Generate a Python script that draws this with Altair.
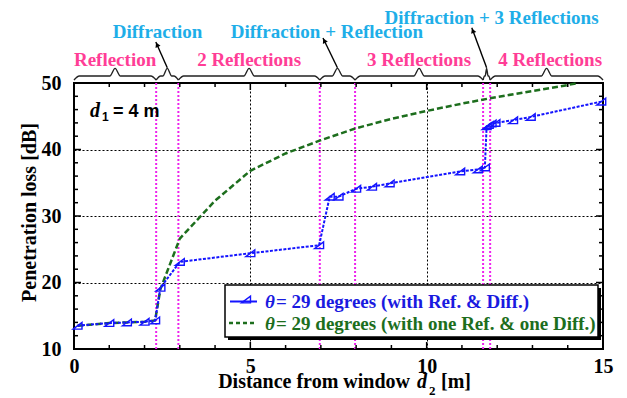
import altair as alt
import pandas as pd
import numpy as np

# ---------------- data ----------------
blue_x = [0.1, 1.0, 1.5, 2.0, 2.3, 2.45, 3.0, 5.0, 6.95, 7.25, 7.5, 8.0, 8.45, 8.95,
          10.95, 11.45, 11.65, 11.7, 11.76, 11.84, 11.95, 12.45, 12.95, 14.95]
blue_y = [13.5, 13.9, 14.0, 14.1, 14.3, 19.2, 23.1, 24.4, 25.6, 32.9, 32.9, 34.1, 34.4, 34.9,
          36.7, 37.0, 37.3, 43.5, 43.7, 43.9, 44.0, 44.4, 44.9, 47.2]
green_x = [0.1, 1.0, 1.5, 2.0, 2.3, 2.45, 3.0, 4.0, 5.0, 6.0, 7.0, 8.0, 9.0, 10.0,
           11.0, 12.0, 13.0, 14.0, 14.3]
green_y = [13.5, 13.9, 14.0, 14.1, 14.3, 19.0, 26.6, 32.3, 36.8, 39.4, 41.4, 43.2, 44.6, 45.8,
           46.9, 47.9, 48.8, 49.7, 50.0]
boundaries = [0, 2.33, 2.96, 6.97, 7.97, 11.6, 11.8, 15]
region_labels = ["Reflection", "Diffraction", "2 Reflections", "Diffraction + Reflection",
                 "3 Reflections", "Diffraction + 3 Reflections", "4 Reflections"]
region_kind = ["refl", "diff", "refl", "diff", "refl", "diff", "refl"]
x_major = [0, 5, 10, 15]
y_major = [10, 20, 30, 40, 50]
series_labels = ["= 29 degrees (with Ref. & Diff.)",
                 "= 29 degrees (with one Ref. & one Diff.)"]

# ---------------- layout ----------------
W, H = 529, 266
XMIN, XMAX, YMIN, YMAX = 0, 15, 10, 50
PXX = W / (XMAX - XMIN)
PXY = H / (YMAX - YMIN)
SERIF = "Liberation Serif"
SANS = "Liberation Sans"
BLUE = "#1414ff"
BLUE_T = "#1a1ae0"
GREEN = "#1d6e1d"
PINK = "#ff3d96"
CYAN = "#1eaee8"
MAG = "#ee22ee"

xs = alt.Scale(domain=[XMIN, XMAX], nice=False, zero=False)
ys = alt.Scale(domain=[YMIN, YMAX], nice=False, zero=False)

blue_df = pd.DataFrame({"x": blue_x, "y": blue_y})
green_df = pd.DataFrame({"x": green_x, "y": green_y})

x_axis = alt.Axis(values=x_major, format="d", ticks=False, domain=False, grid=True,
                  gridColor="black", gridDash=[2, 2], gridWidth=1,
                  labelFont=SERIF, labelFontWeight="bold", labelFontSize=20,
                  labelColor="black", labelPadding=7, labelFlush=False,
                  labelOverlap=False, title=None)
y_axis = alt.Axis(values=y_major, format="d", ticks=False, domain=False, grid=True,
                  gridColor="black", gridDash=[2, 2], gridWidth=1,
                  labelFont=SERIF, labelFontWeight="bold", labelFontSize=20,
                  labelColor="black", labelPadding=13, labelFlush=False,
                  labelOverlap=False, title="Penetration loss [dB]",
                  titleFont=SERIF, titleFontSize=20, titleFontWeight="bold",
                  titleColor="black", titleAngle=-90, titleX=-39, titleY=H / 2 - 4,
                  titleAlign="center", titleBaseline="alphabetic")


def X(f="x"):
    return alt.X(f + ":Q", scale=xs, axis=x_axis)


def Y(f="y"):
    return alt.Y(f + ":Q", scale=ys, axis=y_axis)


# magenta region lines
mag = alt.Chart(pd.DataFrame({"x": boundaries[1:-1]})).mark_rule(
    color=MAG, strokeWidth=2, strokeDash=[2, 2]).encode(x=X())

green = alt.Chart(green_df).mark_line(color=GREEN, strokeWidth=2.5, strokeDash=[6, 3]).encode(
    x=X(), y=Y())
blue_line = alt.Chart(blue_df).mark_line(color=BLUE, strokeWidth=2, strokeDash=[3, 1.5]).encode(
    x=X(), y=Y())
TRI = "M-1,0.75L1,-0.75L1,0.75Z"
blue_pts = alt.Chart(blue_df).mark_point(shape=TRI, size=80, filled=False, color=BLUE,
                                         strokeWidth=1.4, opacity=1).encode(x=X(), y=Y())


# inward ticks (all four sides)
def xticks(vals, length):
    d = pd.DataFrame({"x": vals})
    b = alt.Chart(d).mark_rule(color="black", strokeWidth=1.5).encode(
        x=X(), y=alt.value(H), y2=alt.value(H - length))
    t = alt.Chart(d).mark_rule(color="black", strokeWidth=1.5).encode(
        x=X(), y=alt.value(0), y2=alt.value(length))
    return [b, t]


def yticks(vals, length):
    d = pd.DataFrame({"y": vals})
    l = alt.Chart(d).mark_rule(color="black", strokeWidth=1.5).encode(
        y=Y(), x=alt.value(0), x2=alt.value(length))
    r = alt.Chart(d).mark_rule(color="black", strokeWidth=1.5).encode(
        y=Y(), x=alt.value(W), x2=alt.value(W - length))
    return [l, r]


x_minor = [v for v in range(XMIN, XMAX + 1) if v not in x_major]
y_minor = [v for v in range(YMIN, YMAX + 1, 2) if v not in y_major]
tick_layers = xticks(x_major, 7) + xticks(x_minor, 4) + yticks(y_major, 7) + yticks(y_minor, 4)

# braces above plot
yb0, yb1, yb2 = 50.45, 51.05, 52.2
rows = []
for k, (a, b) in enumerate(zip(boundaries[:-1], boundaries[1:])):
    m = (a + b) / 2
    r = min(0.15, (b - a) / 5)
    pts = [(a, yb0), (a + r, yb1), (m - r, yb1), (m, yb2), (m + r, yb1), (b - r, yb1), (b, yb0)]
    for i, (px, py) in enumerate(pts):
        rows.append({"brace": k, "i": i, "x": px, "y": py})
brace_df = pd.DataFrame(rows)
braces = alt.Chart(brace_df).mark_line(color="#222222", strokeWidth=1.4,
                                       interpolate="monotone").encode(
    x=X(), y=Y(), detail="brace:N", order="i:Q")

# region labels
mids = [(a + b) / 2 for a, b in zip(boundaries[:-1], boundaries[1:])]
lab_x, lab_y, lab_c = [], [], []
cyan_pos = {1: (2.37, 57.6), 3: (7.17, 57.6), 5: (11.84, 59.7)}
for k, kind in enumerate(region_kind):
    if kind == "refl":
        lab_x.append(mids[k] + (0.1 if k == 6 else 0.0))
        lab_y.append(53.46)
        lab_c.append(PINK)
    else:
        lab_x.append(cyan_pos[k][0])
        lab_y.append(cyan_pos[k][1])
        lab_c.append(CYAN)
lab_df = pd.DataFrame({"t": region_labels, "x": lab_x, "y": lab_y, "c": lab_c})
labels = alt.Chart(lab_df).mark_text(font=SERIF, fontWeight="bold", fontSize=19,
                                     baseline="middle", align="center").encode(
    x=X(), y=Y(), text="t:N", color=alt.Color("c:N", scale=None))

# arrows from brace tips to the cyan labels
arr_end = {1: (2.32, 56.17), 3: (7.06, 56.77), 5: (11.28, 58.3)}
ar = []
for k, (ex, ey) in arr_end.items():
    sx, sy = mids[k], yb2 + 0.1
    dxp = (ex - sx) * PXX
    dyp = -(ey - sy) * PXY
    ang = (np.degrees(np.arctan2(dxp, -dyp)) + 360) % 360
    L = np.hypot(dxp, dyp)
    back = 3.0
    hx = ex - (ex - sx) * back / L
    hy = ey - (ey - sy) * back / L
    ar.append({"x": sx, "y": sy, "ex": ex, "ey": ey, "hx": hx, "hy": hy, "ang": ang})
ar_df = pd.DataFrame(ar)
arrows = alt.Chart(ar_df).mark_rule(color="black", strokeWidth=1.4).encode(
    x=X(), y=Y(), x2="ex:Q", y2="ey:Q")
heads = alt.Chart(ar_df).mark_point(shape="triangle-up", filled=True, size=30,
                                    color="black", opacity=1).encode(
    x=X("hx"), y=Y("hy"), angle=alt.Angle("ang:Q", scale=None))

one = pd.DataFrame({"a": [0]})


def vtext(txt, x, y, size, color="black", font=SERIF, style="normal", weight="bold",
          align="left", baseline="alphabetic"):
    return alt.Chart(one).mark_text(text=txt, font=font, fontSize=size, fontStyle=style,
                                    fontWeight=weight, color=color, align=align,
                                    baseline=baseline).encode(
        x=alt.value(x), y=alt.value(y))


# legend box
shadow = alt.Chart(one).mark_rect(color="black").encode(
    x=alt.value(154), x2=alt.value(527), y=alt.value(205), y2=alt.value(257))
box = alt.Chart(one).mark_rect(fill="white", stroke="black", strokeWidth=1.5).encode(
    x=alt.value(151), x2=alt.value(524), y=alt.value(202), y2=alt.value(254))
leg_blue = alt.Chart(one).mark_rule(color=BLUE, strokeWidth=2).encode(
    x=alt.value(156), x2=alt.value(183), y=alt.value(218.5))
leg_tri = alt.Chart(one).mark_point(shape=TRI, size=80, filled=False, color=BLUE,
                                    strokeWidth=1.4, opacity=1).encode(
    x=alt.value(172), y=alt.value(216.5))
leg_green = alt.Chart(one).mark_rule(color=GREEN, strokeWidth=2.5, strokeDash=[4, 3]).encode(
    x=alt.value(155), x2=alt.value(183), y=alt.value(240))
leg_texts = [
    vtext("θ", 191, 225, 19, BLUE_T, style="italic"),
    vtext(series_labels[0], 202, 225, 19, BLUE_T),
    vtext("θ", 191, 246.5, 19, GREEN, style="italic"),
    vtext(series_labels[1], 202, 246.5, 19, GREEN),
]

# x axis title with italic d and subscript
TB = 305
xtitle = [
    vtext("Distance from window", 336, TB, 20, align="right"),
    vtext("d", 343, TB, 20, style="italic"),
    vtext("2", 355, TB + 7, 13),
    vtext("[m]", 367, TB, 20),
]

# d1 = 4 m label
d1 = [
    vtext("d", 16, 34, 20, style="italic"),
    vtext("1", 28, 38, 12, font=SANS),
    vtext("= 4 m", 39, 34, 18, font=SANS),
]

chart = alt.layer(
    mag, green, blue_line, blue_pts, *tick_layers, braces, labels, arrows, heads,
    shadow, box, leg_blue, leg_tri, leg_green, *leg_texts, *xtitle, *d1
).properties(
    width=W, height=H,
    autosize=alt.AutoSizeParams(type="none"),
    padding={"left": 66, "top": 75, "right": 16, "bottom": 49},
    background="white",
).configure_view(stroke="black", strokeWidth=2)

chart.save("out.html", embed_options={"renderer": "svg", "actions": False})
